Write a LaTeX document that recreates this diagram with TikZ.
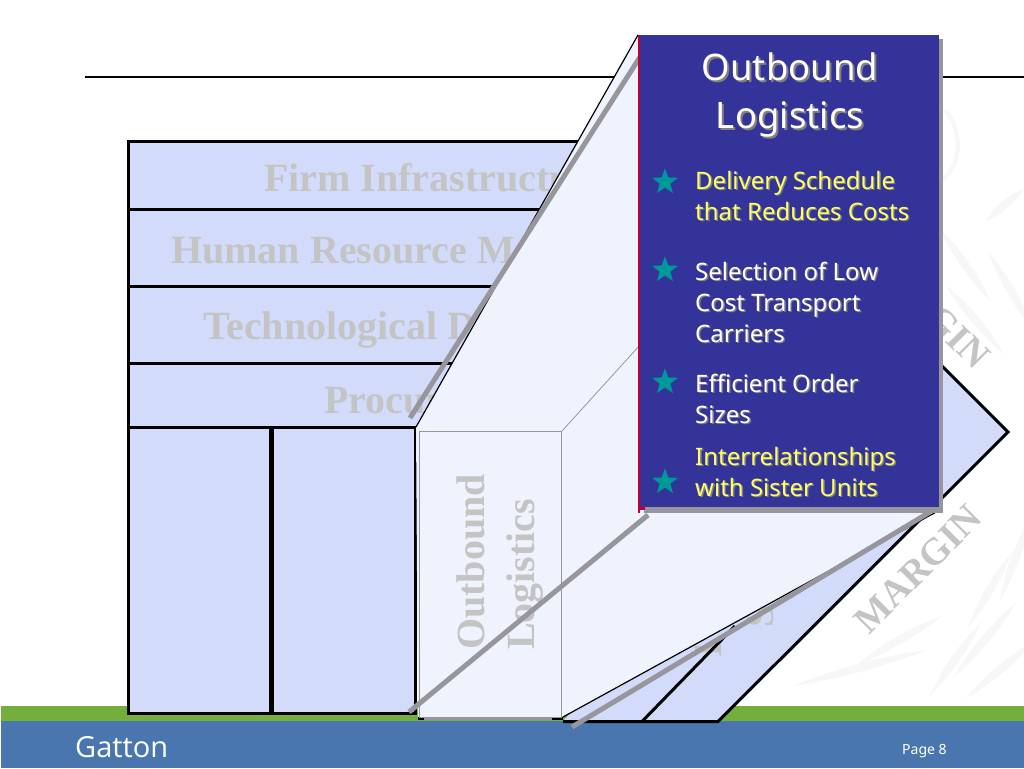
\documentclass[tikz,border=0pt]{standalone}
\usepackage{fontspec}
\usetikzlibrary{shapes.geometric}
\setmainfont{Liberation Serif}
\newfontfamily\panelfont{Noto Sans}
\newfontfamily\logofont{Open Sans}
\definecolor{boxfill}{HTML}{D2DCFA}
\definecolor{paleface}{HTML}{EFF3FE}
\definecolor{ghost}{HTML}{C4C4C4}
\definecolor{panelblue}{HTML}{333399}
\definecolor{panelshadow}{HTML}{96969C}
\definecolor{panelred}{HTML}{C00030}
\definecolor{teal}{HTML}{009999}
\definecolor{bandgreen}{HTML}{74AE3C}
\definecolor{bandblue}{HTML}{4A76B0}
\definecolor{softyellow}{HTML}{FFFF66}
\definecolor{leaf}{HTML}{F7F7F7}
\newcommand{\shd}[1]{\leavevmode\rlap{\kern1.4pt\raisebox{-1.4pt}{\textcolor{gray}{#1}}}#1}
\newcommand{\shdT}[1]{\leavevmode\rlap{\kern2pt\raisebox{-2pt}{\textcolor{gray}{#1}}}#1}
\tikzset{
  row/.style={draw=black,line width=3pt,fill=boxfill},
  ghosttext/.style={text=ghost,font=\bfseries\fontsize{40}{42}\selectfont,anchor=base west,inner sep=0pt},
  margintext/.style={text=ghost,font=\bfseries\fontsize{38}{40}\selectfont,inner sep=0pt},
  greybar/.style={draw=panelshadow,line width=5pt},
  bullet/.style={align=left,anchor=north west,inner sep=0pt,font=\panelfont\fontsize{24}{31}\selectfont},
  starshape/.style={star,star points=5,star point ratio=2.4,fill=teal,minimum size=27pt,inner sep=0pt},
  lowerbox/.style={row,anchor=north west,inner sep=0pt,outer sep=0pt,minimum height=286pt}
}
\begin{document}
\begin{tikzpicture}[x=1pt,y=-1pt]
\useasboundingbox (0,0) rectangle (1024,768);
% faint watermark
\foreach \a/\bx/\by/\l in {-55/965/265/45,-50/975/320/45,-60/1010/290/45,40/1005/205/25,55/955/660/45,50/985/640/50,40/1000/670/45,70/1015/560/45,60/990/590/45,15/860/668/70,30/900/640/50}{
  \fill[leaf,rotate around={\a:(\bx,\by)}] (\bx-\l,\by) .. controls (\bx-\l/3,\by-6) and (\bx+\l/3,\by-6) .. (\bx+\l,\by) .. controls (\bx+\l/3,\by+5) and (\bx-\l/3,\by+5) .. (\bx-\l,\by) -- cycle;
}
\draw[leaf,line width=4pt] (945,110) .. controls (965,135) and (960,165) .. (942,180);
% bands
\fill[bandgreen] (1,706) rectangle (1024,721);
\fill[bandblue] (1,721) rectangle (1024,768);
\node[anchor=base west,inner sep=0pt,text=white,font=\logofont\fontsize{29}{29}\selectfont] (brand) at (75,757) {Gatton};
\node[anchor=base west,inner sep=0pt,text=white,font=\panelfont\fontsize{14}{14}\selectfont] (page) at (902,754) {Page 8};
% header rule
\coordinate (ruleL) at (85,77);
\coordinate (ruleR) at (1024,77);
\draw[black,line width=1.3pt] (ruleL) -- (ruleR);
% value chain
\path[row] (128,141.5) rectangle (700,209.5);
\path[row] (128,209.5) rectangle (700,286);
\path[row] (128,286) rectangle (700,363);
\path[row] (128,363) rectangle (700,427);
\node[lowerbox,minimum width=142pt] (inbound) at (128,427) {};
\node[lowerbox,minimum width=143pt] (ops) at (272,427) {};
\node[ghosttext] (firm) at (264,191) {Firm Infrastructure};
\node[ghosttext] (hrm) at (171,263) {Human Resource Management};
\node[ghosttext] (tech) at (203,339) {Technological Development};
\node[ghosttext] (proc) at (324,413) {Procurement};
% chevron part
\fill[boxfill] (563,721) -- (718,721) -- (1008,432) -- (942,366) -- (900,366) -- cycle;
\coordinate (tip) at (1008,432);
\coordinate (upper) at (935,359);
\coordinate (lower) at (718,721.5);
\coordinate (baseL) at (563,721.5);
\coordinate (divB) at (642,721.5);
\coordinate (divT) at (735,626);
\node[text=ghost,font=\bfseries\fontsize{40}{42}\selectfont,rotate=90,inner sep=0pt] (mk) at (760,616) {S};
\node[text=ghost,font=\bfseries\fontsize{40}{42}\selectfont,rotate=90,inner sep=0pt] (sv) at (708,650) {I};
\draw[black,line width=3pt,line join=miter] (upper) -- (tip) -- (lower) -- (baseL);
\draw[black,line width=3pt] (divB) -- (divT);
\node[margintext,rotate=45] (m2) at (918,569) {MARGIN};
\node[margintext,rotate=-45] (m1) at (926,305) {MARGIN};
% pale magnified face
\coordinate (pA) at (638,35);
\coordinate (pB) at (416,427);
\coordinate (pC) at (418,717);
\coordinate (pD) at (563,717);
\coordinate (pE) at (938,511);
\fill[paleface] (pA) -- (pB) -- (pC) -- (pD) -- (pE) -- (640,511) -- cycle;
\draw[black,line width=1.2pt] (pA) -- (pB);
\draw[black,line width=1.2pt] (pD) -- (pE);
\draw[black,line width=3pt] (418,718.5) -- (563,718.5);
\node[draw=panelshadow,line width=1pt,fill=paleface,anchor=north west,inner sep=0pt,minimum width=142pt,minimum height=286pt] (outbox) at (419,431) {};
\draw[panelshadow,line width=3.2pt] (424,718.5) -- (552,718.5);
\coordinate (thinT) at (640,345);
\draw[panelshadow,line width=.8pt] (outbox.north east) -- (thinT);
\node[ghosttext,rotate=90] (ob1) at (484,650) {Outbound};
\node[ghosttext,rotate=90] (ob2) at (534,650) {Logistics};
% grey bars
\coordinate (g1a) at (640,57);
\coordinate (g1b) at (410,418);
\coordinate (g2a) at (648,515);
\coordinate (g2b) at (409,712);
\coordinate (g3a) at (930,512);
\coordinate (g3b) at (572,727);
\draw[greybar] (g1a) -- (g1b);
\draw[greybar] (g2a) -- (g2b);
\draw[greybar] (g3a) -- (g3b);
% panel
\fill[panelshadow] (644,39) rectangle (943,512.5);
\fill[panelblue] (639,35) rectangle (938.5,507);
\fill[panelred] (637.5,35) rectangle (640,512.5);
\fill[panelred] (640,507) rectangle (645,510);
\node[inner sep=0pt,align=center,text=white,font=\panelfont\fontsize{36.5}{48}\selectfont] (title) at (790,96) {\shdT{Outbound}\\\shdT{Logistics}};
\node[starshape] (s1) at (665,182) {};
\node[starshape] (s2) at (665,270) {};
\node[starshape] (s3) at (665,382) {};
\node[starshape] (s4) at (665,482) {};
\node[bullet,text=softyellow] (b1) at (695,171) {\shd{Delivery Schedule}\\\shd{that Reduces Costs}};
\node[bullet,text=white] (b2) at (695,262) {\shd{Selection of Low}\\\shd{Cost Transport}\\\shd{Carriers}};
\node[bullet,text=white] (b3) at (695,374) {\shd{Efficient Order}\\\shd{Sizes}};
\node[bullet,text=softyellow] (b4) at (695,447) {\shd{Interrelationships}\\\shd{with Sister Units}};
\end{tikzpicture}
\end{document}
